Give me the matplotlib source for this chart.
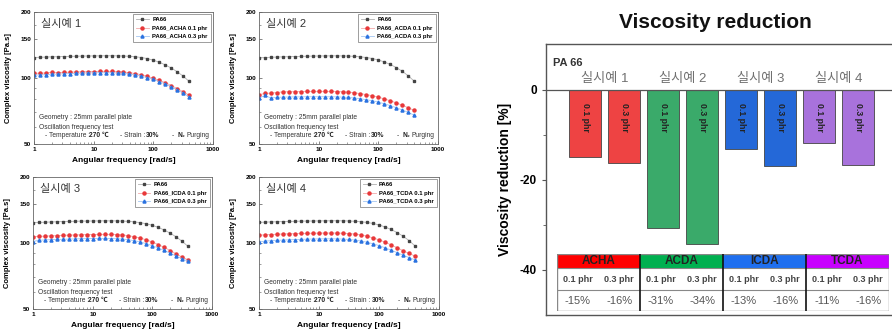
import numpy as np
import matplotlib
matplotlib.use("Agg")
import matplotlib.pyplot as plt
from matplotlib.patches import Rectangle
from matplotlib.ticker import FixedLocator, NullFormatter

plt.rcParams['font.family'] = ['Liberation Sans', 'Noto Sans CJK KR', 'DejaVu Sans']

# ---- data: frequency sweep (rad/s) ----
freq = [1.0, 1.26, 1.58, 2.0, 2.51, 3.16, 3.98, 5.01, 6.31, 7.94, 10.0, 12.6, 15.8, 20.0,
        25.1, 31.6, 39.8, 50.1, 63.1, 79.4, 100.0, 126.0, 158.0, 200.0, 251.0, 316.0, 398.0]

# complex viscosity [Pa.s]
pa66_1 = [124.0, 124.3, 124.6, 124.9, 125.1, 125.3, 125.5, 125.7, 125.9, 126.0, 126.1, 126.2, 126.3, 126.3,
          126.2, 126.0, 125.6, 125.0, 124.0, 122.6, 120.6, 118.0, 114.8, 111.0, 106.8, 102.0, 96.5]
acha_01 = [105.3, 105.0, 105.5, 106.0, 105.8, 106.0, 106.3, 106.5, 106.7, 106.9, 107.0, 107.2, 107.2, 107.1,
           106.9, 106.5, 105.8, 104.8, 103.5, 101.8, 99.7, 97.6, 95.3, 92.4, 89.5, 86.6, 83.5]
acha_03 = [103.0, 103.3, 103.5, 104.0, 104.2, 104.5, 104.8, 105.0, 105.3, 105.5, 105.6, 105.7, 105.7, 105.6,
           105.4, 105.0, 104.3, 103.3, 102.0, 100.4, 98.5, 96.3, 94.0, 91.2, 88.3, 85.3, 82.0]

pa66_2 = [123.5, 124.0, 124.3, 124.6, 124.9, 125.1, 125.3, 125.5, 125.7, 125.9, 126.0, 126.1, 126.2, 126.2,
          126.1, 125.9, 125.5, 124.9, 124.0, 122.7, 120.8, 118.4, 115.3, 111.6, 107.4, 102.4, 96.8]
acda_01 = [84.0, 85.0, 85.3, 85.8, 86.5, 86.5, 86.6, 86.7, 86.8, 86.8, 86.8, 86.8, 86.8, 86.7,
           86.5, 86.1, 85.6, 84.9, 84.0, 83.0, 81.8, 80.3, 78.8, 77.0, 75.2, 73.2, 71.2]
acda_03 = [81.0, 83.3, 81.0, 81.6, 81.8, 81.9, 82.0, 82.0, 82.1, 82.1, 82.1, 82.1, 82.1, 82.0,
           81.8, 81.5, 81.0, 80.4, 79.6, 78.7, 77.6, 76.3, 74.8, 73.2, 71.5, 69.7, 67.7]

pa66_3 = [123.8, 124.1, 124.4, 124.7, 125.0, 125.2, 125.4, 125.6, 125.8, 125.9, 126.0, 126.1, 126.2, 126.2,
          126.1, 125.9, 125.5, 124.8, 123.8, 122.4, 120.4, 117.8, 114.6, 110.8, 106.6, 101.8, 96.4]
icda_01 = [107.0, 107.2, 107.4, 107.8, 108.0, 108.3, 108.6, 108.8, 109.0, 109.2, 109.3, 109.4, 109.5, 109.4,
           109.2, 108.8, 108.0, 106.8, 105.3, 103.4, 101.0, 98.4, 95.5, 92.4, 89.2, 86.2, 83.8]
icda_03 = [101.5, 103.0, 103.3, 103.6, 103.8, 104.0, 104.2, 104.4, 104.6, 104.7, 104.8, 104.9, 104.9, 104.8,
           104.6, 104.2, 103.5, 102.4, 101.0, 99.3, 97.2, 94.9, 92.5, 89.8, 87.2, 84.8, 82.5]

pa66_4 = [124.2, 124.5, 124.8, 125.0, 125.2, 125.4, 125.6, 125.8, 125.9, 126.0, 126.1, 126.2, 126.3, 126.3,
          126.2, 126.0, 125.6, 125.0, 124.1, 122.8, 120.9, 118.4, 115.3, 111.6, 107.5, 102.6, 97.0]
tcda_01 = [108.5, 109.0, 109.3, 109.6, 109.9, 110.1, 110.3, 110.5, 110.7, 110.8, 110.9, 111.0, 111.0, 111.0,
           110.8, 110.4, 109.8, 108.8, 107.4, 105.6, 103.4, 100.9, 98.1, 95.2, 92.3, 89.6, 87.2]
tcda_03 = [101.0, 102.0, 102.5, 102.8, 103.1, 103.4, 103.7, 103.9, 104.1, 104.3, 104.4, 104.5, 104.5, 104.4,
           104.2, 103.8, 103.1, 102.1, 100.8, 99.2, 97.3, 95.1, 92.8, 90.4, 88.0, 85.8, 83.8]

additives = ['ACHA', 'ACDA', 'ICDA', 'TCDA']
panel_titles = ['실시예 1', '실시예 2', '실시예 3', '실시예 4']
pa66_sets = [pa66_1, pa66_2, pa66_3, pa66_4]
low_sets = [acha_01, acda_01, icda_01, tcda_01]
high_sets = [acha_03, acda_03, icda_03, tcda_03]

# viscosity reduction [%]
bar_labels = ['0.1 phr', '0.3 phr'] * 4
reduction = [-14.8, -16.2, -30.7, -34.2, -13.2, -16.8, -11.8, -16.7]
table_values = ['-15%', '-16%', '-31%', '-34%', '-13%', '-16%', '-11%', '-16%']

W, H = 892, 333
fig = plt.figure(figsize=(W / 100, H / 100), dpi=100)


def px_rect(left, top, right, bottom):
    return [left / W, 1 - bottom / H, (right - left) / W, (bottom - top) / H]


panel_boxes = [(34, 12, 213, 144), (259, 12, 438, 144), (33, 177, 212, 309), (259, 177, 439, 309)]

for i in range(4):
    ax = fig.add_axes(px_rect(*panel_boxes[i]))
    add = additives[i]
    ax.plot(freq, pa66_sets[i], color='#b0b0b0', lw=0.6, marker='s', ms=2.0,
            mfc='#444444', mec='#444444', label='PA66')
    ax.plot(freq, low_sets[i], color='#f2a8a8', lw=0.6, marker='o', ms=2.2,
            mfc='#e8383a', mec='#e8383a', label=f'PA66_{add} 0.1 phr')
    ax.plot(freq, high_sets[i], color='#a4c6f2', lw=0.6, marker='^', ms=2.2,
            mfc='#2a72e0', mec='#2a72e0', label=f'PA66_{add} 0.3 phr')
    ax.set_xscale('log')
    ax.set_yscale('log')
    ax.set_xlim(1, 1000)
    ax.set_ylim(50, 200)
    ax.xaxis.set_major_locator(FixedLocator([1, 10, 100, 1000]))
    ax.set_xticklabels(['1', '10', '100', '1000'])
    ax.yaxis.set_major_locator(FixedLocator([50, 100, 150, 200]))
    ax.set_yticklabels(['50', '100', '150', '200'])
    ax.yaxis.set_minor_locator(FixedLocator([60, 70, 80, 90, 125, 175]))
    ax.yaxis.set_minor_formatter(NullFormatter())
    ax.xaxis.set_minor_formatter(NullFormatter())
    ax.tick_params(which='both', direction='in', labelsize=4.6, pad=2, color='#555555')
    ax.tick_params(which='major', length=2.5, width=0.5)
    ax.tick_params(which='minor', length=1.5, width=0.4)
    for lab in ax.get_xticklabels() + ax.get_yticklabels():
        lab.set_fontweight('bold')
    for sp in ax.spines.values():
        sp.set_color('#666666')
        sp.set_linewidth(0.6)
    ax.set_xlabel('Angular frequency [rad/s]', fontsize=6, fontweight='bold', labelpad=4)
    ax.set_ylabel('Complex viscosity [Pa.s]', fontsize=5.5, fontweight='bold', labelpad=6)
    ax.text(0.04, 0.89, panel_titles[i], transform=ax.transAxes, fontsize=8, color='#333333')
    leg = ax.legend(loc='upper right', frameon=True, fancybox=False,
                    borderpad=0.5, labelspacing=0.55, handlelength=2.2, handletextpad=0.6,
                    borderaxespad=0.4, prop={'weight': 'bold', 'size': 4.2})
    leg.get_frame().set_edgecolor('#555555')
    leg.get_frame().set_linewidth(0.5)
    ax.text(0.03, 0.19, 'Geometry : 25mm parallel plate', transform=ax.transAxes,
            fontsize=4.8, color='#333333')
    ax.text(0.03, 0.115, 'Oscillation frequency test', transform=ax.transAxes,
            fontsize=4.8, color='#333333')
    ax.text(0.06, 0.05, '- Temperature :', transform=ax.transAxes, fontsize=4.8, color='#333333')
    ax.text(0.305, 0.05, '270 \u2103', transform=ax.transAxes, fontsize=4.8,
            color='#222222', fontweight='bold')
    ax.text(0.48, 0.05, '- Strain :', transform=ax.transAxes, fontsize=4.8, color='#333333')
    ax.text(0.625, 0.05, '30%', transform=ax.transAxes, fontsize=4.8,
            color='#222222', fontweight='bold')
    ax.text(0.77, 0.05, '-', transform=ax.transAxes, fontsize=4.8, color='#333333')
    ax.text(0.80, 0.05, 'N\u2082', transform=ax.transAxes, fontsize=4.8,
            color='#222222', fontweight='bold')
    ax.text(0.85, 0.05, 'Purging', transform=ax.transAxes, fontsize=4.8, color='#333333')

# ---- right: viscosity reduction bars ----
fig.text(715 / W, 1 - 23 / H, 'Viscosity reduction', fontsize=15, fontweight='bold',
         ha='center', va='center', color='#111111')

group_colors = ['#ee4343', '#3aaa6a', '#2468d8', '#a872dc']
bar_colors = [c for c in group_colors for _ in range(2)]

axr = fig.add_axes(px_rect(546, 44, 892, 315))
xpos = np.arange(len(reduction))
axr.bar(xpos, reduction, width=0.82, color=bar_colors, edgecolor='#444444', linewidth=0.6, zorder=2)
axr.axhline(0, color='#555555', lw=0.9, zorder=3)
axr.set_xlim(-1, 7.87)
axr.set_ylim(-50, 10.2)
axr.set_xticks([])
axr.set_yticks([0, -20, -40])
axr.set_yticklabels(['0', '-20', '-40'])
axr.yaxis.set_minor_locator(FixedLocator([-10, -30]))
axr.tick_params(axis='y', which='both', direction='out', labelsize=8.5, color='#555555')
axr.tick_params(axis='y', which='major', length=3, width=0.8)
axr.tick_params(axis='y', which='minor', length=2, width=0.6)
for lab in axr.get_yticklabels():
    lab.set_fontweight('bold')
axr.spines['right'].set_visible(False)
for s in ['top', 'left', 'bottom']:
    axr.spines[s].set_color('#555555')
    axr.spines[s].set_linewidth(1.0)
axr.set_ylabel('Viscosity reduction [%]', fontsize=10, fontweight='bold', labelpad=6)

for xi, lab in zip(xpos, bar_labels):
    axr.text(xi, -3.0, lab, rotation=-90, ha='center', va='top', fontsize=6.3,
             fontweight='bold', color='#222222', zorder=4)
for g in range(4):
    axr.text(2 * g + 0.5, 2.4, panel_titles[g], ha='center', va='center', fontsize=9.5,
             color='#707070')
axr.text(0.02, 0.93, 'PA 66', transform=axr.transAxes, fontsize=8, fontweight='bold',
         color='#333333', va='center')

# ---- summary table ----
header_colors = ['#ff0000', '#00b050', '#1f6fef', '#c800ff']
tab = fig.add_axes(px_rect(557, 254, 889, 311), zorder=5)
tab.set_xlim(0, 4)
tab.set_ylim(57, 0)
tab.axis('off')
tab.add_patch(Rectangle((0, 0), 4, 57, facecolor='white', edgecolor='none'))
for g in range(4):
    tab.add_patch(Rectangle((g, 0), 1, 14, facecolor=header_colors[g], edgecolor='none'))
    tab.text(g + 0.5, 7.5, additives[g], ha='center', va='center', fontsize=8.5,
             fontweight='bold', color='#222222')
    for k in range(2):
        idx = 2 * g + k
        xc = g + 0.25 + 0.5 * k
        tab.text(xc, 25, bar_labels[idx], ha='center', va='center', fontsize=6.5,
                 fontweight='bold', color='#444444')
        tab.text(xc, 46.5, table_values[idx], ha='center', va='center', fontsize=8,
                 color='#555555')
for yy in [14, 36]:
    tab.plot([0, 4], [yy, yy], color='#888888', lw=0.8)
for xx in [1, 2, 3]:
    tab.plot([xx, xx], [0, 57], color='#111111', lw=1.2)
tab.add_patch(Rectangle((0, 0), 4, 57, facecolor='none', edgecolor='#888888', lw=1.0))

fig.savefig('out.png', dpi=100)
